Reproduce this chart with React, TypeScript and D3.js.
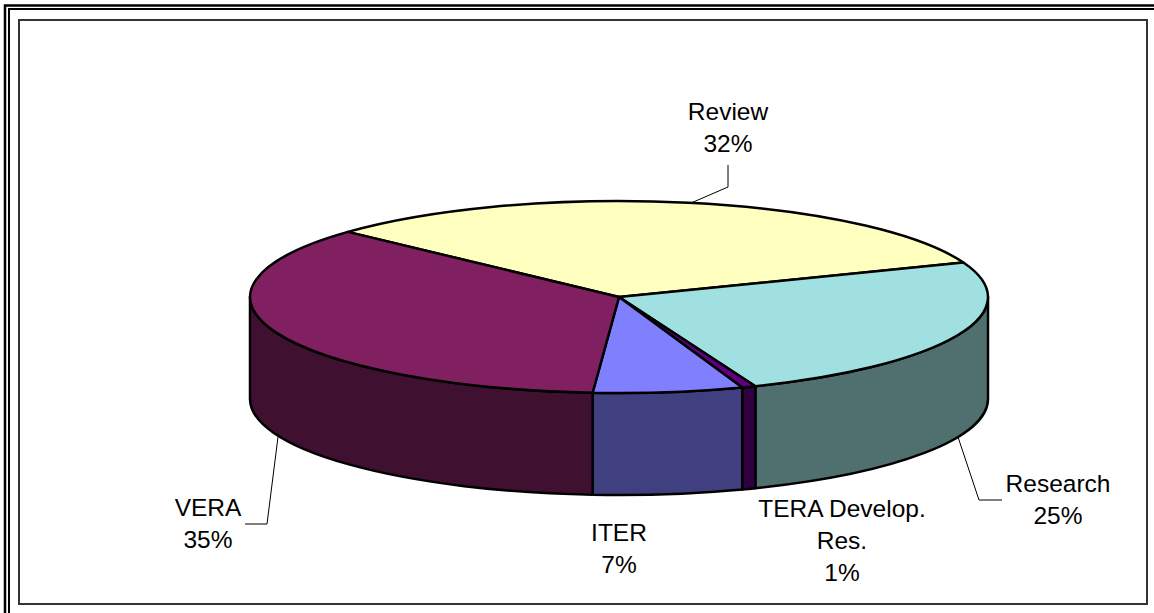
import React from "react";
import * as d3 from "d3";

const categories = ["Review", "Research", "TERA Develop. Res.", "ITER", "VERA"];
const shares = [32.0, 24.6, 0.6, 6.5, 35.4];
const topColors = ["#ffffc0", "#a0e0e0", "#600080", "#8080ff", "#802060"];
const wallColors = ["#808060", "#507070", "#300040", "#404080", "#401030"];

const labelLines = [["Review", "32%"], ["Research", "25%"], ["TERA Develop.", "Res.", "1%"], ["ITER", "7%"], ["VERA", "35%"]];
const labelAnchors = [[728, 120], [1058, 492], [842, 517], [619, 541], [208, 516]];
const leaders = [
  [[691, 203], [728, 187], [728, 165]],
  [[958, 437], [979, 500], [1002, 500]],
  [],
  [],
  [[278, 437], [267, 524], [245, 524]],
];

const width = 1154;
const height = 613;
const cx = 619;
const cy = 297;
const rx = 369;
const ry = 96;
const depth = 102;
const startAngle = (-47.3 * Math.PI) / 180;

const px = (a: number) => cx + rx * Math.sin(a);
const py = (a: number) => cy - ry * Math.cos(a);

// side wall of a slice, only the part facing the viewer
function wallPath(a0: number, a1: number) {
  const lo = Math.max(a0, Math.PI / 2);
  const hi = Math.min(a1, (3 * Math.PI) / 2);
  if (hi <= lo) return null;
  return (
    `M${px(lo)},${py(lo)}` +
    `A${rx},${ry} 0 0 1 ${px(hi)},${py(hi)}` +
    `L${px(hi)},${py(hi) + depth}` +
    `A${rx},${ry} 0 0 0 ${px(lo)},${py(lo) + depth}Z`
  );
}

export default function App() {
  const pie = d3
    .pie<number>()
    .sort(null)
    .startAngle(startAngle)
    .endAngle(startAngle + 2 * Math.PI);
  const slices = pie(shares);
  const arc = d3.arc<d3.PieArcDatum<number>>().innerRadius(0).outerRadius(rx);

  return (
    <svg
      width={width}
      height={height}
      style={{ position: "absolute", left: 0, top: 0, fontFamily: "Liberation Sans, Arial, sans-serif" }}
    >
      <rect width={width} height={height} fill="#fff" />
      {/* double rule runs off the right and bottom of the picture */}
      <path d={`M${width},5.5H5V${height}`} fill="none" stroke="#000" strokeWidth={2.5} />
      <path d={`M${width},9H9V${height}`} fill="none" stroke="#000" strokeWidth={2} />
      <rect x={19} y={20} width={1128} height={584} fill="none" stroke="#333" strokeWidth={2} />

      {slices.map((d, i) => {
        const wall = wallPath(d.startAngle, d.endAngle);
        return wall ? (
          <path key={categories[i]} d={wall} fill={wallColors[i]} stroke="#000" strokeWidth={2.5} strokeLinejoin="round" />
        ) : null;
      })}

      <g transform={`translate(${cx},${cy}) scale(1,${ry / rx})`}>
        {slices.map((d, i) => (
          <path
            key={categories[i]}
            d={arc(d) ?? ""}
            fill={topColors[i]}
            stroke="#000"
            strokeWidth={2.5}
            strokeLinejoin="round"
            vectorEffect="non-scaling-stroke"
          />
        ))}
      </g>

      {leaders.map((pts, i) =>
        pts.length ? (
          <path key={i} d={d3.line()(pts as [number, number][]) ?? ""} fill="none" stroke="#000" strokeWidth={1} />
        ) : null
      )}

      {labelLines.map((lines, i) => (
        <text key={i} textAnchor="middle" fontSize={24.5} fill="#000">
          {lines.map((t, j) => (
            <tspan key={j} x={labelAnchors[i][0]} y={labelAnchors[i][1] + j * 32}>
              {t}
            </tspan>
          ))}
        </text>
      ))}
    </svg>
  );
}
